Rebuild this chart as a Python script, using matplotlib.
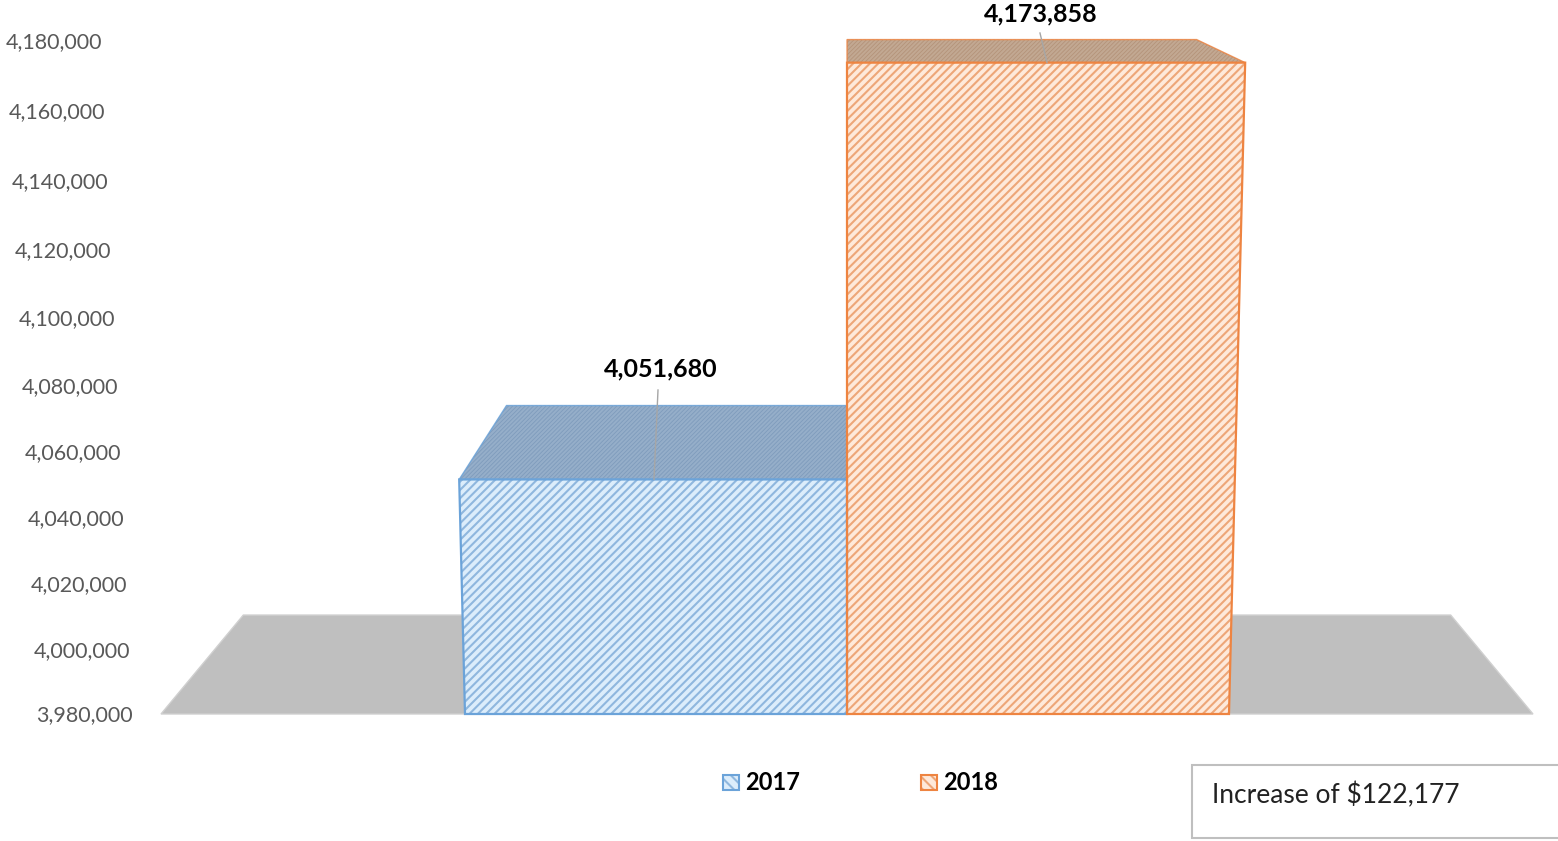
import numpy as np
import matplotlib
matplotlib.use('Agg')
import matplotlib.pyplot as plt
from matplotlib.patches import Polygon, Rectangle

plt.rcParams['font.family'] = ['Lato', 'DejaVu Sans']
plt.rcParams['hatch.linewidth'] = 1.5

years = ['2017', '2018']
values = [4051680, 4173858]
y_ticks = [3980000, 4000000, 4020000, 4040000, 4060000, 4080000,
           4100000, 4120000, 4140000, 4160000, 4180000]
note = 'Increase of $122,177'

# where the ticks sit on the tilted value wall, in figure pixels
tick_px = [714, 650, 584, 518, 452, 386, 318, 250, 181, 111.5, 41]

# colours: edge, hatch, face, top face, top texture
blue = ['#6ba3d9', '#8fb7de', '#dcedfb', '#7f9cbc', '#95aec9']
orange = ['#ee8441', '#eda678', '#fee9da', '#b4937a', '#c2a892']
styles = [blue, orange]

base_y = 714
center_x = 847
half_w = 382     # bar width at the base
floor_half = 686


def val_y(v):
    return np.interp(v, y_ticks, tick_px)


# horizontal spread grows with height, the chart was a 3D perspective one
def spread(py):
    return 1 + 6.5e-5 * (base_y - py)


def depth(py):
    return 23 + (py - 62) * 0.122


fig = plt.figure(figsize=(15.58, 8.41), dpi=100)
ax = fig.add_axes([0, 0, 1, 1])
ax.set_xlim(0, 1558)
ax.set_ylim(841, 0)
ax.axis('off')

# floor
back_y = base_y - depth(base_y) * 0.965
ax.add_patch(Polygon([(center_x - floor_half, base_y), (center_x - floor_half * 0.88, back_y),
                      (center_x + floor_half * 0.88, back_y), (center_x + floor_half, base_y)],
                     closed=True, fc='#bfbfbf', ec='#d0d0d0', lw=1))

# bars
for i, (year, val) in enumerate(zip(years, values)):
    edge, hatch_c, face, top_c, top_tex = styles[i]
    top = val_y(val)
    s = spread(top)
    top_back = top - depth(top)
    if i == 0:
        base_pts = [(center_x - half_w, base_y), (center_x, base_y)]
        top_pts = [(center_x, top), (center_x - half_w * s, top)]
        back_pts = [(center_x - half_w * s * 0.878, top_back), (center_x, top_back)]
        roof = [top_pts[1], back_pts[0], back_pts[1], top_pts[0]]
    else:
        base_pts = [(center_x, base_y), (center_x + half_w, base_y)]
        top_pts = [(center_x + half_w * s, top), (center_x, top)]
        back_pts = [(center_x, top_back), (center_x + half_w * s * 0.878, top_back)]
        roof = [top_pts[1], back_pts[0], back_pts[1], top_pts[0]]

    ax.add_patch(Polygon(roof, closed=True, fc=top_c, ec=top_tex, hatch='////////', lw=0, zorder=3))
    ax.add_patch(Polygon(roof, closed=True, fill=False, ec=edge, lw=1, alpha=0.8, zorder=3))
    front = base_pts + top_pts
    ax.add_patch(Polygon(front, closed=True, fc=face, ec=hatch_c, hatch='////', lw=0, zorder=3))
    ax.add_patch(Polygon(front, closed=True, fill=False, ec=edge, lw=1.6, zorder=4))

# value labels with their leader lines
ax.plot([658, 654], [390, val_y(values[0])], color='#a6a6a6', lw=1, zorder=5)
ax.plot([1040, 1047], [33, val_y(values[1])], color='#a6a6a6', lw=1, zorder=5)
ax.text(661, 369, f'{values[0]:,}', ha='center', va='center', fontsize=18, fontweight='bold', color='black')
ax.text(1041, 13.5, f'{values[1]:,}', ha='center', va='center', fontsize=18, fontweight='bold', color='black')

# y tick labels lean with the wall
for t in y_ticks:
    py = val_y(t)
    ax.text(133 - (base_y - py) * 0.046, py + 1, f'{t:,}', ha='right', va='center',
            fontsize=15.5, color='#595959')

# legend
for i, (year, lx) in enumerate(zip(years, [723, 921])):
    edge, hatch_c, face, top_c, top_tex = styles[i]
    ax.add_patch(Rectangle((lx, 775), 16, 15, fc=face, ec=hatch_c, hatch='\\\\\\', lw=0))
    ax.add_patch(Rectangle((lx, 775), 16, 15, fill=False, ec=edge, lw=1.5))
    ax.text(lx + 22, 782.5, year, ha='left', va='center', fontsize=17, fontweight='bold', color='black')

# note box runs off the right edge
ax.add_patch(Rectangle((1192, 765), 400, 73, fc='white', ec='#bfbfbf', lw=1.5))
ax.text(1212, 795, note, ha='left', va='center', fontsize=19, color='#222222')

fig.savefig('out.png', dpi=100)
